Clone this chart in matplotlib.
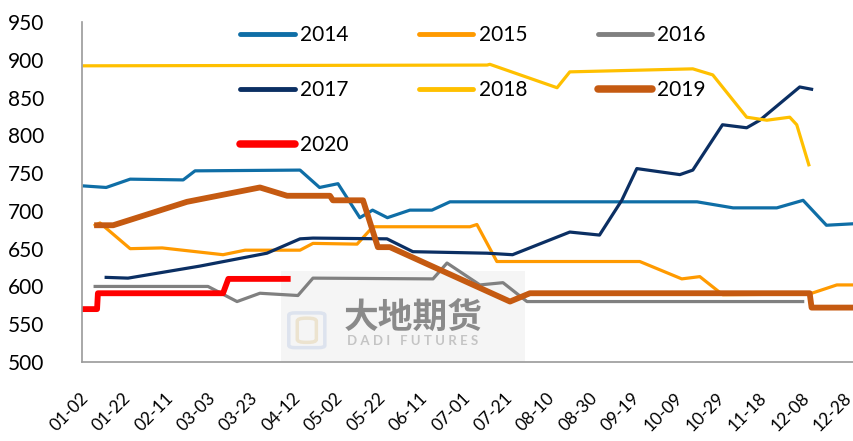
import matplotlib
matplotlib.use('Agg')
import matplotlib.pyplot as plt
from matplotlib.patches import Rectangle, FancyBboxPatch
import matplotlib.transforms as mtrans

# x = days counted from 01-02
tick_labels = ['01-02', '01-22', '02-11', '03-03', '03-23', '04-12', '05-02', '05-22', '06-11',
               '07-01', '07-21', '08-10', '08-30', '09-19', '10-09', '10-29', '11-18', '12-08', '12-28']

x2014 = [0, 10.4, 21.7, 46.7, 52.3, 101.8, 111, 119.7, 130, 136, 143, 153.6, 164, 172.5, 289, 306, 326.6, 339, 350, 363]
y2014 = [733, 731, 742, 741, 753, 754, 731, 736, 691, 701, 691, 701, 701, 712, 712, 704, 704, 714, 681, 683]

x2015 = [5.2, 7.5, 21.7, 36.8, 65.5, 75.9, 101.8, 107.9, 128.7, 136.2, 181.9, 185.2, 194.6, 262, 281.8, 290.3, 301.1, 342, 354.9, 363]
y2015 = [681, 684, 650, 651, 642, 648, 648, 657, 656, 679, 679, 682, 633, 633, 610, 613, 589, 590, 602, 602]

x2016 = [5.2, 58.4, 72.1, 82.9, 100.8, 107.9, 164.5, 171.1, 186.6, 197.5, 208.8, 338.8]
y2016 = [600, 600, 580, 591, 588, 611, 610, 631, 602, 605, 580, 580]

x2017 = [10.4, 20.7, 54.7, 86.2, 101.8, 107.9, 142.8, 155, 190, 202, 229, 243, 253.5, 260.6, 280.9, 287, 301, 312.4, 318.6, 337.4, 343]
y2017 = [612, 611, 627, 644, 663, 664, 663, 646, 644, 642, 672, 668, 714, 756, 748, 754, 814, 810, 820, 864, 861]

x2018 = [0, 190, 191.3, 223, 229, 287, 296.4, 312.4, 321.9, 332.7, 336, 341.7]
y2018 = [892, 893, 894, 863, 884, 888, 880, 824, 820, 824, 814, 761]

x2019 = [6.1, 13.7, 48.5, 82.9, 95.7, 115.9, 117.3, 131.5, 138.5, 144.2, 200.8, 210.2, 342.1, 343, 363]
y2019 = [681, 681, 712, 731, 720, 720, 714, 714, 652, 652, 580, 591, 591, 572, 572]

x2020 = [0, 6.1, 6.5, 65.5, 68, 96]
y2020 = [570, 570, 591, 591, 610, 610]

plt.rcParams['font.family'] = ['Lato', 'DejaVu Sans']
fig = plt.figure(figsize=(8.54, 4.41), dpi=100)
ax = fig.add_axes([82/854, 1 - 362/441, 772/854, 340/441])

# watermark (logo box + company name)
ax.add_patch(Rectangle((93, 500), 115, 120, facecolor='#f5f5f5', edgecolor='none', zorder=0))
ax.add_patch(FancyBboxPatch((96.5, 519), 17, 46, boxstyle='round,pad=0,rounding_size=3',
                            facecolor='none', edgecolor='#dde3ee', lw=2.5, zorder=0.4))
ax.add_patch(FancyBboxPatch((100.5, 526), 9, 32, boxstyle='round,pad=0,rounding_size=4',
                            facecolor='none', edgecolor='#ece3cf', lw=2.5, zorder=0.4))
ax.text(155, 559, '大地期货', fontsize=25, color='#8a8a8a', ha='center', va='center',
        family=['Noto Sans CJK SC'], fontweight='bold', zorder=0.5)
ax.text(155, 528, 'D A D I   F U T U R E S', fontsize=9.5, color='#c4c4c4', ha='center', va='center',
        fontweight='bold', zorder=0.5)

lw = 2.3
ax.plot(x2014, y2014, color='#0f6ea6', lw=lw, label='2014', solid_joinstyle='round')
ax.plot(x2015, y2015, color='#ff9a00', lw=lw, label='2015', solid_joinstyle='round')
ax.plot(x2016, y2016, color='#808080', lw=lw, label='2016', solid_joinstyle='round')
ax.plot(x2017, y2017, color='#0b2f63', lw=lw, label='2017', solid_joinstyle='round')
ax.plot(x2018, y2018, color='#ffc000', lw=lw, label='2018', solid_joinstyle='round')
ax.plot(x2019, y2019, color='#c55a11', lw=4.2, label='2019', solid_joinstyle='round')
ax.plot(x2020, y2020, color='#ff0000', lw=4.2, label='2020', solid_joinstyle='round')

ax.set_xlim(-1, 363)
ax.set_ylim(500, 950)
ax.set_yticks(range(500, 951, 50))
ax.set_xticks(range(0, 361, 20))
ax.set_xticklabels(tick_labels, rotation=45, ha='right', va='top', rotation_mode='anchor')
ax.tick_params(length=0)
ax.tick_params(axis='y', pad=27, labelsize=15)
ax.tick_params(axis='x', pad=20, labelsize=12.5)
shift = mtrans.ScaledTranslation(-4/100, 0, fig.dpi_scale_trans)
for lab in ax.get_xticklabels():
    lab.set_transform(lab.get_transform() + shift)
for s in ['top', 'right']:
    ax.spines[s].set_visible(False)
for s in ['left', 'bottom']:
    ax.spines[s].set_color('#9a9a9a')
    ax.spines[s].set_linewidth(1.2)

# legend filled row by row like the original
handles, labels = ax.get_legend_handles_labels()
order = [0, 3, 6, 1, 4, 2, 5]
leg = ax.legend([handles[i] for i in order], [labels[i] for i in order],
                ncol=3, loc='upper left', bbox_to_anchor=(0.181, 1.045), frameon=False,
                fontsize=15, handlelength=2.6, handletextpad=0.25, columnspacing=3.4,
                labelspacing=1.68)
for h in leg.get_lines():
    h.set_linewidth(h.get_linewidth() + 1.2)
    h.set_solid_capstyle('round')

fig.savefig('out.png', dpi=100)
